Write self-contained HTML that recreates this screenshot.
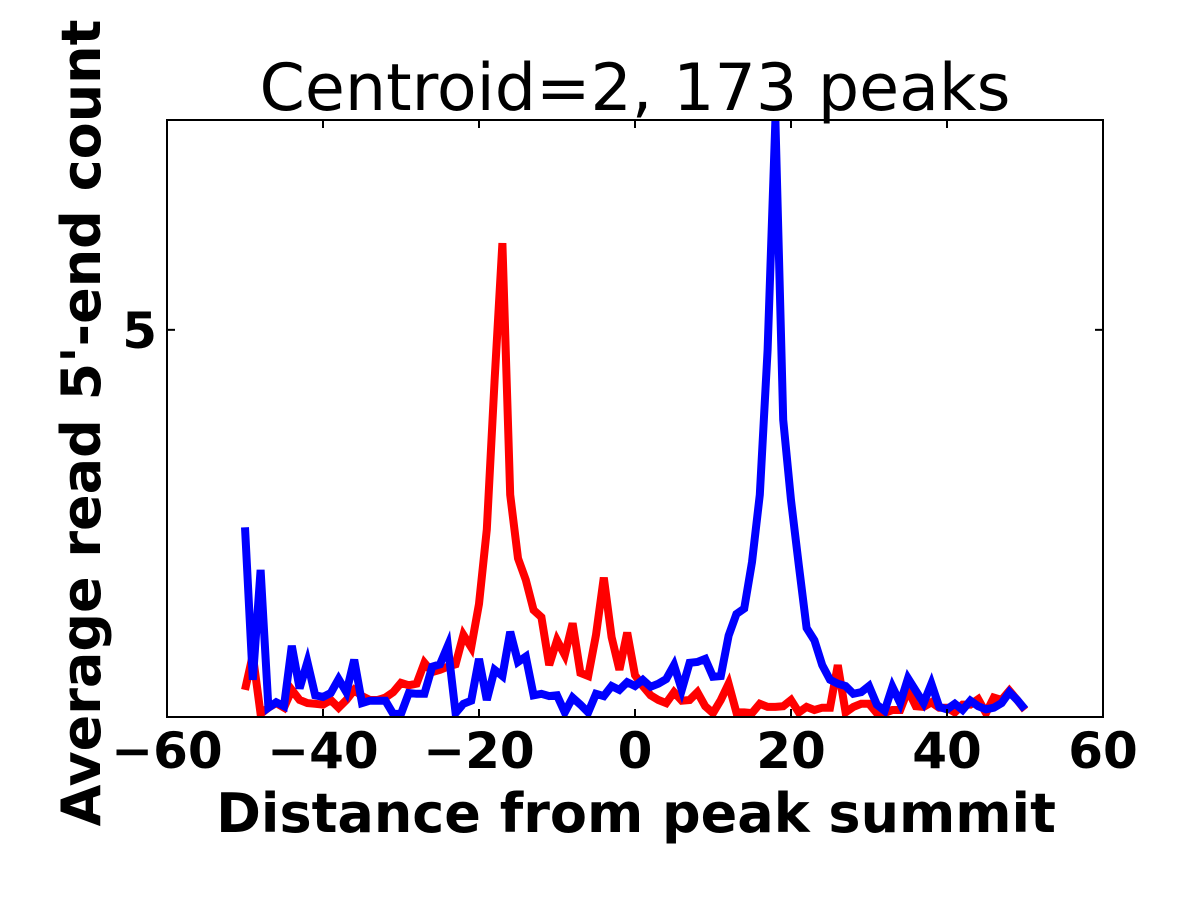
<!DOCTYPE html>
<html><head><meta charset="utf-8"><style>body{margin:0;background:#fff}svg text{font-family:"DejaVu Sans","Liberation Sans",sans-serif}</style></head>
<body>
<svg id="chart" width="1200" height="900" xmlns="http://www.w3.org/2000/svg">
<defs><clipPath id="clip"><rect x="167" y="120" width="936" height="597"/></clipPath></defs>
<rect width="1200" height="900" fill="#fff"/>
<text x="635" y="110" font-size="65" text-anchor="middle">Centroid=2, 173 peaks</text>
<g id="series" clip-path="url(#clip)"></g>
<rect x="167" y="120" width="936" height="597" fill="none" stroke="#000" stroke-width="2"/>
<g id="ticks"></g>
<text x="636" y="832" font-size="54" font-weight="bold" text-anchor="middle">Distance from peak summit</text>
<text transform="translate(100,423) rotate(-90)" font-size="54" font-weight="bold" text-anchor="middle">Average read 5'-end count</text>
</svg>
<script>
const xStart = -50;
const redValues = [0.35,0.80,0.04,0.12,0.18,0.12,0.35,0.22,0.18,0.17,0.16,0.22,0.12,0.22,0.35,0.27,0.22,0.22,0.25,0.32,0.44,0.41,0.43,0.70,0.58,0.61,0.65,0.68,1.06,0.90,1.46,2.42,4.35,6.12,2.87,2.05,1.77,1.38,1.29,0.67,0.99,0.80,1.21,0.57,0.53,1.06,1.80,1.03,0.61,1.09,0.54,
0.40,0.28,0.22,0.18,0.32,0.21,0.22,0.32,0.14,0.05,0.22,0.43,0.06,0.06,0.05,0.17,0.13,0.13,0.14,0.22,0.06,0.13,0.09,0.12,0.12,0.67,0.06,0.13,0.17,0.17,0.05,0.05,0.09,0.09,0.35,0.14,0.13,0.19,0.12,0.12,0.06,0.16,0.16,0.23,0.05,0.25,0.22,0.34,0.22,0.09];
const blueValues = [2.45,0.48,1.90,0.12,0.19,0.14,0.92,0.37,0.71,0.28,0.26,0.31,0.49,0.32,0.74,0.18,0.21,0.21,0.21,0.04,0.04,0.31,0.30,0.30,0.65,0.68,0.92,0.05,0.17,0.21,0.75,0.22,0.61,0.53,1.10,0.71,0.78,0.28,0.30,0.27,0.28,0.06,0.25,0.16,0.06,0.30,0.27,0.40,0.35,0.45,0.40,
0.48,0.39,0.43,0.49,0.67,0.35,0.70,0.71,0.75,0.52,0.53,1.05,1.33,1.40,2.00,2.87,4.74,7.71,3.84,2.80,1.96,1.15,0.99,0.67,0.48,0.43,0.40,0.30,0.32,0.40,0.16,0.08,0.39,0.18,0.50,0.34,0.18,0.43,0.13,0.10,0.17,0.09,0.21,0.14,0.10,0.12,0.18,0.32,0.22,0.10];
const xTicks = [-60,-40,-20,0,20,40,60];
const xTickLabels = ["\u221260","\u221240","\u221220","0","20","40","60"];
const yTicks = [5];
const yTickLabels = ["5"];
const X0=167,X1=1103,Y0=717,Y1=120,XMIN=-60,XMAX=60,YMIN=0,YMAX=7.71;
function sx(v){return X0+(v-XMIN)/(XMAX-XMIN)*(X1-X0);}
function sy(v){return Y0-(v-YMIN)/(YMAX-YMIN)*(Y0-Y1);}
const NS="http://www.w3.org/2000/svg";
const g=document.getElementById('series');
function line(vals,color,name){
  const p=document.createElementNS(NS,'polyline');
  p.setAttribute('points',vals.map((v,i)=>sx(xStart+i).toFixed(1)+','+sy(v).toFixed(1)).join(' '));
  p.setAttribute('fill','none');p.setAttribute('stroke',color);p.setAttribute('stroke-width','8');p.setAttribute('stroke-linejoin','miter');
  
  
  g.appendChild(p);
}
line(redValues,'#ff0000','red-series-line');
line(blueValues,'#0000ff','blue-series-line');
const t=document.getElementById('ticks');
xTicks.forEach((v,i)=>{
  const x=sx(v);
  [[Y0,Y0-8],[Y1,Y1+8]].forEach(a=>{const l=document.createElementNS(NS,'line');l.setAttribute('x1',x);l.setAttribute('x2',x);l.setAttribute('y1',a[0]);l.setAttribute('y2',a[1]);l.setAttribute('stroke','#000');l.setAttribute('stroke-width','2');
  
  
  t.appendChild(l);});
  const tx=document.createElementNS(NS,'text');tx.setAttribute('x',x);tx.setAttribute('y',768);tx.setAttribute('font-size','50');tx.setAttribute('font-weight','bold');tx.setAttribute('text-anchor','middle');tx.textContent=xTickLabels[i];
  
  
  t.appendChild(tx);
});
yTicks.forEach((v,i)=>{
  const y=sy(v);
  [[X0,X0+8],[X1,X1-8]].forEach(a=>{const l=document.createElementNS(NS,'line');l.setAttribute('x1',a[0]);l.setAttribute('x2',a[1]);l.setAttribute('y1',y);l.setAttribute('y2',y);l.setAttribute('stroke','#000');l.setAttribute('stroke-width','2');
  
  
  t.appendChild(l);});
  const tx=document.createElementNS(NS,'text');tx.setAttribute('x',157);tx.setAttribute('y',y+18);tx.setAttribute('font-size','50');tx.setAttribute('font-weight','bold');tx.setAttribute('text-anchor','end');tx.textContent=yTickLabels[i];
  
  
  t.appendChild(tx);
});
</script>
</body></html>
